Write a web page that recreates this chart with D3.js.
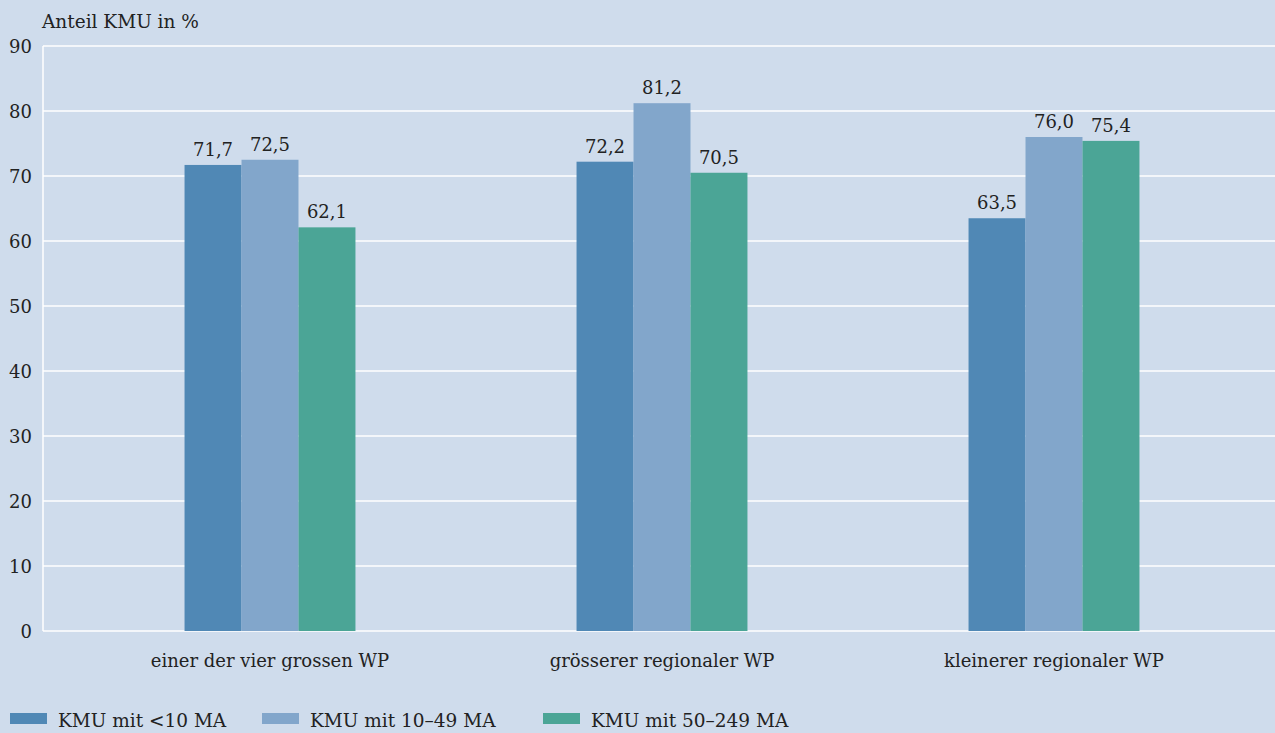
<!DOCTYPE html>
<html>
<head>
<meta charset="utf-8">
<script src="https://cdn.jsdelivr.net/npm/d3@7"></script>
<style>
  body { margin: 0; background: #cfdcec; }
  svg text { font-family: "DejaVu Serif", "Liberation Serif", serif; fill: #222; }
</style>
</head>
<body>
<svg id="chart"></svg>
<script>
const categories = ['einer der vier grossen WP', 'grösserer regionaler WP', 'kleinerer regionaler WP']
const seriesNames = ['KMU mit <10 MA', 'KMU mit 10–49 MA', 'KMU mit 50–249 MA']
const small = [71.7, 72.2, 63.5]
const medium = [72.5, 81.2, 76.0]
const large = [62.1, 70.5, 75.4]
const yTicks = [0, 10, 20, 30, 40, 50, 60, 70, 80, 90]

const colors = ['#5088b5', '#82a6cb', '#4ba596']
const series = [small, medium, large]

const W = 1275, H = 733
const svg = d3.select('#chart').attr('width', W).attr('height', H)

svg.append('rect').attr('width', W).attr('height', H).attr('fill', '#cfdcec')

let x0 = d3.scaleBand()
  .domain(categories)
  .range([74, 1250])
  .paddingInner(0.564)
  .paddingOuter(0.282)

let x1 = d3.scaleBand()
  .domain(d3.range(series.length))
  .range([0, x0.bandwidth()])

let y = d3.scaleLinear()
  .domain([0, 90])
  .range([631, 46])

// grid
svg.append('g')
  .selectAll('line')
  .data(yTicks)
  .enter()
  .append('line')
  .attr('x1', 43)
  .attr('x2', W)
  .attr('y1', d => y(d))
  .attr('y2', d => y(d))
  .attr('stroke', '#fff')
  .attr('stroke-width', 1.5)

svg.append('line')
  .attr('x1', 43).attr('x2', 43)
  .attr('y1', y(90)).attr('y2', y(0))
  .attr('stroke', '#fff')
  .attr('stroke-width', 1.5)

// y labels
svg.append('g')
  .selectAll('text')
  .data(yTicks)
  .enter()
  .append('text')
  .attr('x', 32)
  .attr('y', d => y(d) + 7)
  .attr('text-anchor', 'end')
  .attr('font-size', 18)
  .text(d => d)

svg.append('text')
  .attr('x', 42)
  .attr('y', 28)
  .attr('font-size', 18.5)
  .text('Anteil KMU in %')

// bars
const groups = svg.append('g')
  .selectAll('g')
  .data(categories)
  .enter()
  .append('g')
  .attr('transform', d => 'translate(' + x0(d) + ',0)')

groups.selectAll('rect')
  .data((c, i) => series.map((s, j) => ({ j: j, v: s[i] })))
  .enter()
  .append('rect')
  .attr('x', d => x1(d.j))
  .attr('width', x1.bandwidth())
  .attr('y', d => y(d.v))
  .attr('height', d => y(0) - y(d.v))
  .attr('fill', d => colors[d.j])

groups.selectAll('text')
  .data((c, i) => series.map((s, j) => ({ j: j, v: s[i] })))
  .enter()
  .append('text')
  .attr('x', d => x1(d.j) + x1.bandwidth() / 2)
  .attr('y', d => y(d.v) - 9)
  .attr('text-anchor', 'middle')
  .attr('font-size', 18)
  .text(d => d3.format('.1f')(d.v).replace('.', ','))

// x labels
svg.append('g')
  .selectAll('text')
  .data(categories)
  .enter()
  .append('text')
  .attr('x', d => x0(d) + x0.bandwidth() / 2)
  .attr('y', 667)
  .attr('text-anchor', 'middle')
  .attr('font-size', 18)
  .text(d => d)

// legend
const legendX = [10, 262, 543]
const leg = svg.append('g')
  .selectAll('g')
  .data(seriesNames)
  .enter()
  .append('g')
  .attr('transform', (d, i) => 'translate(' + legendX[i] + ',0)')

leg.append('rect')
  .attr('x', 0)
  .attr('y', 713)
  .attr('width', 37)
  .attr('height', 11)
  .attr('fill', (d, i) => colors[i])

leg.append('text')
  .attr('x', 48)
  .attr('y', 727)
  .attr('font-size', 18.5)
  .text(d => d)
</script>
</body>
</html>
